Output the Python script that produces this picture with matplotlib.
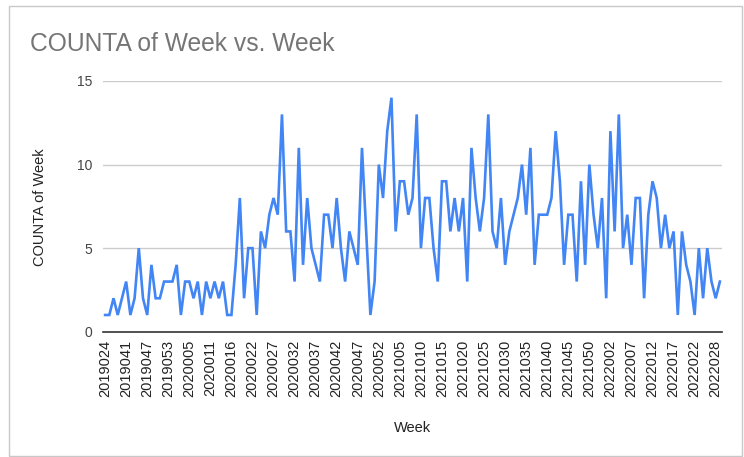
import matplotlib
matplotlib.use("Agg")
import matplotlib.pyplot as plt
from matplotlib.patches import Rectangle

tick_labels = ["2019024", "2019041", "2019047", "2019053", "2020005", "2020011",
               "2020016", "2020022", "2020027", "2020032", "2020037", "2020042",
               "2020047", "2020052", "2021005", "2021010", "2021015", "2021020",
               "2021025", "2021030", "2021035", "2021040", "2021045", "2021050",
               "2022002", "2022007", "2022012", "2022017", "2022022", "2022028"]

counts = [1, 1, 2, 1, 2, 3, 1, 2, 5, 2,
          1, 4, 2, 2, 3, 3, 3, 4, 1, 3,
          3, 2, 3, 1, 3, 2, 3, 2, 3, 1,
          1, 4, 8, 2, 5, 5, 1, 6, 5, 7,
          8, 7, 13, 6, 6, 3, 11, 4, 8, 5,
          4, 3, 7, 7, 5, 8, 5, 3, 6, 5,
          4, 11, 6, 1, 3, 10, 8, 12, 14, 6,
          9, 9, 7, 8, 13, 5, 8, 8, 5, 3,
          9, 9, 6, 8, 6, 8, 3, 11, 8, 6,
          8, 13, 6, 5, 8, 4, 6, 7, 8, 10,
          7, 11, 4, 7, 7, 7, 8, 12, 9, 4,
          7, 7, 3, 9, 4, 10, 7, 5, 8, 2,
          12, 6, 13, 5, 7, 4, 8, 8, 2, 7,
          9, 8, 5, 7, 5, 6, 1, 6, 4, 3,
          1, 5, 2, 5, 3, 2, 3]

label_step = 5
y_ticks = [0, 5, 10, 15]

plt.rcParams['font.family'] = ['Liberation Sans', 'DejaVu Sans']

W, H = 744, 457
fig = plt.figure(figsize=(W / 100, H / 100), dpi=100)
fig.patch.set_facecolor("white")

# chart border
fig.patches.append(Rectangle((8.5 / W, 1 - 456 / H), (742 - 8.5) / W, (456 - 5.5) / H,
                             transform=fig.transFigure, fill=False,
                             edgecolor="#c8c8c8", linewidth=1.0))

left, right = 103 / W, 722 / W
bottom, top = 1 - 331.7 / H, 1 - 81 / H
ax = fig.add_axes([left, bottom, right - left, top - bottom])

x = list(range(len(counts)))
ax.plot(x, counts, color="#4285F4", linewidth=1.9, solid_joinstyle="miter", zorder=3)

ax.set_xlim(-0.5, len(counts) - 0.5)
ax.set_ylim(0, 15)
ax.set_yticks(y_ticks)
ax.set_yticklabels([str(v) for v in y_ticks], fontsize=10, color="#444444")
ax.set_xticks(list(range(0, len(counts), label_step))[:len(tick_labels)])
ax.set_xticklabels(tick_labels, rotation=90, fontsize=10.5, color="#222222")
ax.tick_params(axis="both", length=0)
ax.tick_params(axis="x", pad=6)
ax.tick_params(axis="y", pad=8)

ax.grid(axis="y", color="#cccccc", linewidth=1.0)
ax.set_axisbelow(True)
for s in ["top", "right", "left"]:
    ax.spines[s].set_visible(False)
ax.spines["bottom"].set_color("#333333")
ax.spines["bottom"].set_linewidth(1.2)
ax.spines["bottom"].set_zorder(4)

fig.text(30 / W, 1 - 44 / H, "COUNTA of Week vs. Week", fontsize=17.7,
         color="#757575", ha="left", va="center")
fig.text(413 / W, 1 - 428 / H, "Week", fontsize=10.5, color="#222222",
         ha="center", va="center")
fig.text(40 / W, 1 - 207 / H, "COUNTA of Week", fontsize=10.5, color="#222222",
         ha="center", va="center", rotation=90)

fig.savefig("out.png", dpi=100)
